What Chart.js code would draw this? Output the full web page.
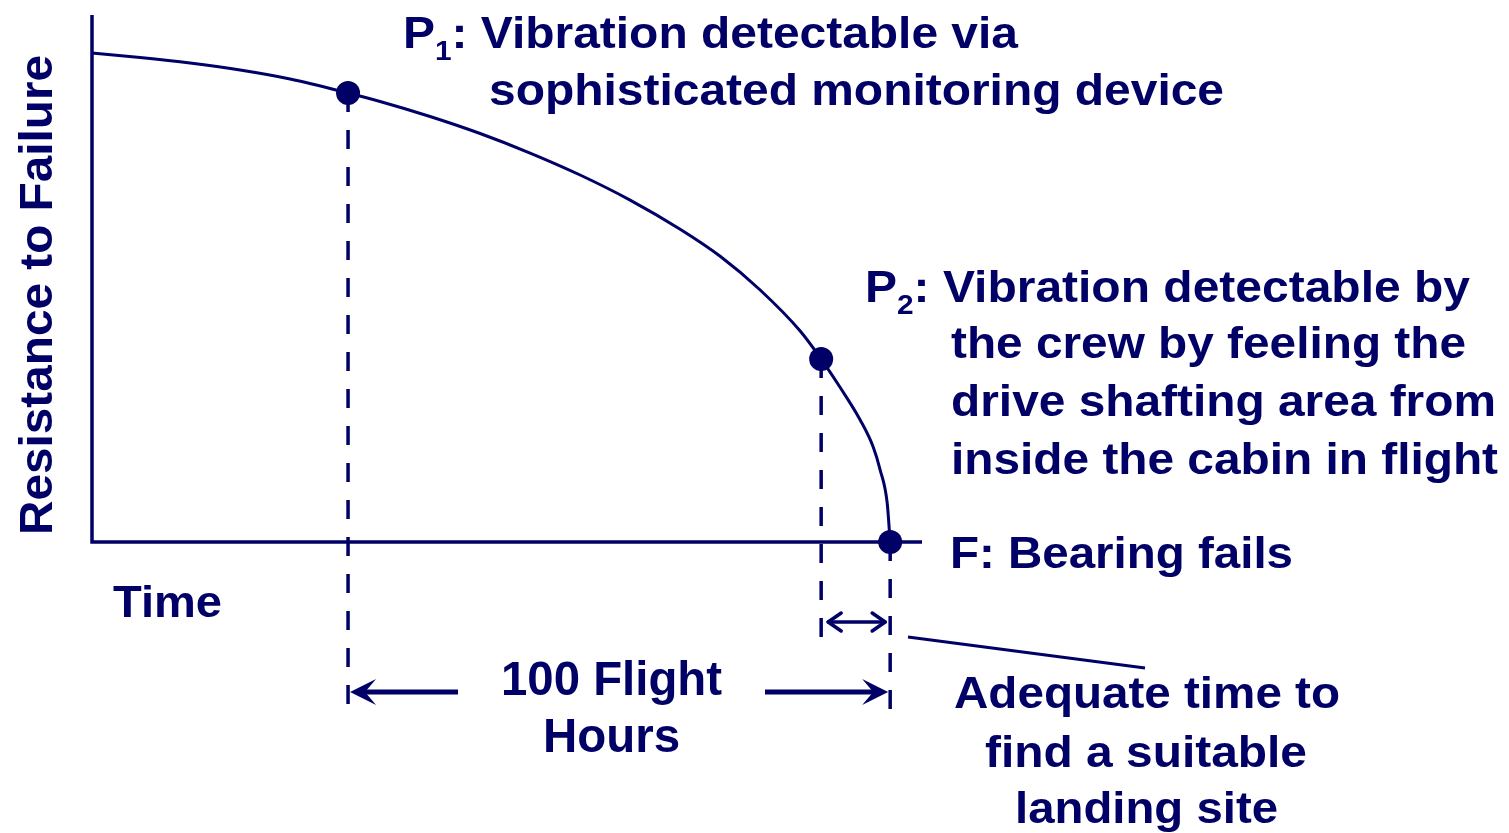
<!DOCTYPE html>
<html>
<head>
<meta charset="utf-8">
<script src="https://cdn.jsdelivr.net/npm/chart.js@4"></script>
<style>
  html, body { margin: 0; padding: 0; background: #fff; }
  canvas { display: block; }
</style>
</head>
<body>
<canvas id="chart" width="1509" height="833"></canvas>
<script>
// --- data: resistance to failure over time (time in flight hours) ---
const curveHours = [0, 8.86, 18.08, 27.31, 36.53, 47.23, 53.14, 62.36, 71.59, 80.81, 90.04, 99.26,
                    108.49, 115.87, 123.25, 130.63, 134.5, 138.01, 141.7, 144.1, 145.39, 146.68, 147.23];
const curveResistance = [92.79, 91.94, 90.89, 89.56, 87.86, 85.2, 83.59, 80.74, 77.51, 73.81, 69.64, 64.88,
                         59.35, 54.22, 47.82, 40.04, 34.72, 29.32, 23.15, 18.03, 13.66, 7.4, 0];

const eventNames      = ['P1', 'P2', 'F'];
const eventHours      = [47.23, 134.5, 147.23];
const eventResistance = [85.2, 34.72, 0];
const eventDashEnd    = [-33.4, -20.1, -33.4];  // how far the dashed drop lines run below the axis

const NAVY = '#000066';
const FONT = '"Liberation Sans", Arial, sans-serif';

const curvePoints = curveHours.map((h, i) => ({ x: h, y: curveResistance[i] }));
const eventPoints = eventHours.map((h, i) => ({ x: h, y: eventResistance[i] }));

// dashed verticals under each event
const dropLines = eventHours.map((h, i) => ({
    type: 'line',
    data: [{ x: h, y: eventResistance[i] }, { x: h, y: eventDashEnd[i] }],
    borderColor: NAVY,
    borderWidth: 3.5,
    borderDash: [19, 18],
    pointRadius: 0,
    clip: false,
    order: 3
}));

// text drawn to a fixed width (the original font is a bit condensed)
function drawParts(ctx, parts, x, y, width) {
    let total = 0;
    parts.forEach(p => {
        ctx.font = 'bold ' + p[1] + 'px ' + FONT;
        total += ctx.measureText(p[0]).width;
    });
    const s = width / total;
    ctx.save();
    ctx.translate(x, y);
    ctx.scale(s, 1);
    let cx = 0;
    parts.forEach(p => {
        ctx.font = 'bold ' + p[1] + 'px ' + FONT;
        ctx.fillText(p[0], cx, p[2] || 0);
        cx += ctx.measureText(p[0]).width;
    });
    ctx.restore();
}

function stealthHead(ctx, x, y, dir) {
    // dir = 1 points right, -1 points left
    ctx.beginPath();
    ctx.moveTo(x, y);
    ctx.lineTo(x - dir * 26, y - 13);
    ctx.lineTo(x - dir * 15, y);
    ctx.lineTo(x - dir * 26, y + 13);
    ctx.closePath();
    ctx.fill();
}

function openHead(ctx, x, y, dir) {
    ctx.beginPath();
    ctx.moveTo(x - dir * 13, y - 9);
    ctx.lineTo(x, y);
    ctx.lineTo(x - dir * 13, y + 9);
    ctx.stroke();
}

const annotations = {
    id: 'annotations',
    afterDatasetsDraw(chart) {
        const ctx = chart.ctx;
        const xs = chart.scales.x;
        const ys = chart.scales.y;
        const x0 = xs.getPixelForValue(0);
        const y0 = ys.getPixelForValue(0);
        const area = chart.chartArea;

        ctx.save();
        ctx.strokeStyle = NAVY;
        ctx.fillStyle = NAVY;

        // axes
        ctx.lineWidth = 3.5;
        ctx.beginPath();
        ctx.moveTo(x0, area.top);
        ctx.lineTo(x0, y0);
        ctx.lineTo(area.right, y0);
        ctx.stroke();

        // 100 flight hours span (P1 -> F)
        const xP1 = xs.getPixelForValue(eventHours[0]);
        const xP2 = xs.getPixelForValue(eventHours[1]);
        const xF = xs.getPixelForValue(eventHours[2]);
        const ySpan = 692;
        ctx.lineWidth = 5;
        ctx.beginPath();
        ctx.moveTo(xP1 + 15, ySpan); ctx.lineTo(458, ySpan);
        ctx.moveTo(765, ySpan); ctx.lineTo(xF - 15, ySpan);
        ctx.stroke();
        stealthHead(ctx, xP1 + 2, ySpan, -1);
        stealthHead(ctx, xF - 2, ySpan, 1);

        // small P2 -> F double arrow
        const ySmall = 622;
        ctx.lineWidth = 3.5;
        ctx.lineCap = 'round';
        ctx.lineJoin = 'round';
        ctx.beginPath();
        ctx.moveTo(xP2 + 7, ySmall); ctx.lineTo(xF - 5, ySmall);
        ctx.stroke();
        openHead(ctx, xP2 + 7, ySmall, -1);
        openHead(ctx, xF - 5, ySmall, 1);

        // leader line to the note
        ctx.lineWidth = 3;
        ctx.lineCap = 'butt';
        ctx.beginPath();
        ctx.moveTo(908, 637);
        ctx.lineTo(1145, 668);
        ctx.stroke();

        // text
        ctx.textBaseline = 'alphabetic';
        ctx.textAlign = 'left';
        drawParts(ctx, [['P', 45], ['1', 28, 12], [': Vibration detectable via', 45]], 403, 48, 615);
        drawParts(ctx, [['sophisticated monitoring device', 45]], 489, 105, 735);
        drawParts(ctx, [['P', 45], ['2', 28, 12], [': Vibration detectable by', 45]], 865, 302, 605);
        drawParts(ctx, [['the crew by feeling the', 45]], 951, 358, 515);
        drawParts(ctx, [['drive shafting area from', 45]], 951, 416, 545);
        drawParts(ctx, [['inside the cabin in flight', 45]], 951, 474, 547);
        drawParts(ctx, [['F: Bearing fails', 45]], 950, 568, 343);
        drawParts(ctx, [['Time', 45]], 113, 617, 109);
        drawParts(ctx, [['100 Flight', 48]], 501, 695, 221);
        drawParts(ctx, [['Hours', 48]], 543, 752, 137);
        drawParts(ctx, [['Adequate time to', 45]], 954, 708, 386);
        drawParts(ctx, [['find a suitable', 45]], 985, 767, 322);
        drawParts(ctx, [['landing site', 45]], 1015, 823, 263);

        ctx.save();
        ctx.translate(52, 535);
        ctx.rotate(-Math.PI / 2);
        drawParts(ctx, [['Resistance to Failure', 47]], 0, 0, 480);
        ctx.restore();

        ctx.restore();
    }
};

new Chart(document.getElementById('chart'), {
    type: 'scatter',
    data: {
        datasets: [
            {
                label: 'Resistance to Failure',
                data: curvePoints,
                showLine: true,
                borderColor: NAVY,
                borderWidth: 3,
                pointRadius: 0,
                cubicInterpolationMode: 'monotone',
                clip: false,
                order: 2
            },
            {
                label: 'Events',
                data: eventPoints,
                showLine: false,
                pointRadius: 12,
                pointBackgroundColor: NAVY,
                pointBorderWidth: 0,
                clip: false,
                order: 1
            },
            ...dropLines
        ]
    },
    options: {
        responsive: false,
        animation: false,
        devicePixelRatio: 1,
        layout: { padding: { left: 92, top: 15, right: 587, bottom: 291 } },
        plugins: { legend: { display: false }, tooltip: { enabled: false } },
        scales: {
            x: { type: 'linear', display: false, min: 0, max: 153.1 },
            y: { type: 'linear', display: false, min: 0, max: 100 }
        }
    },
    plugins: [annotations]
});
</script>
</body>
</html>
